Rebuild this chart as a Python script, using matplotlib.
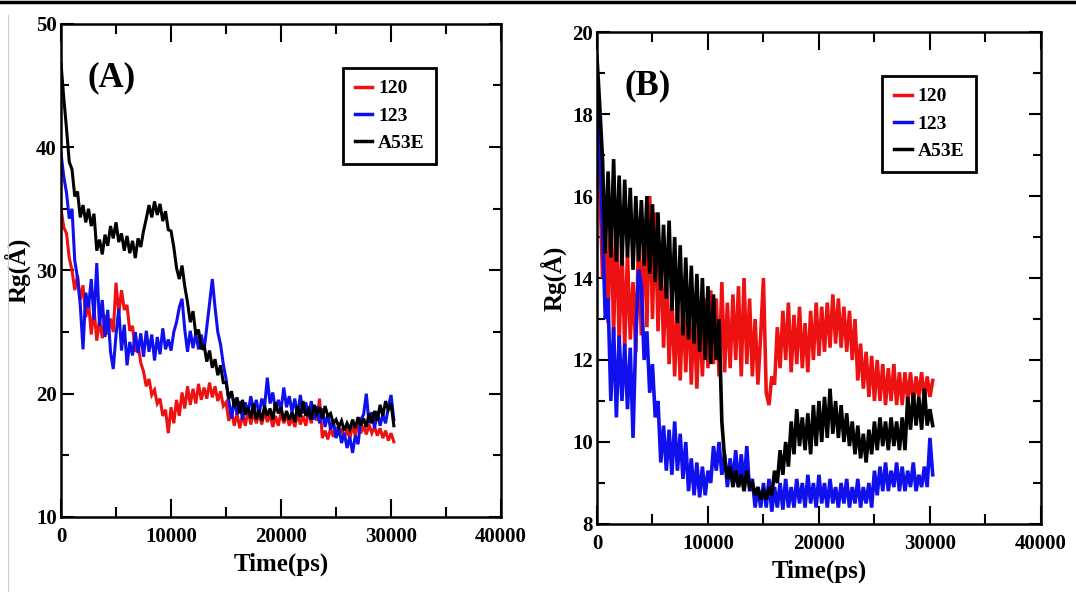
import numpy as np
import matplotlib
matplotlib.use("Agg")
import matplotlib.pyplot as plt
from matplotlib.lines import Line2D
from matplotlib.ticker import MultipleLocator

plt.rcParams['font.family'] = ['Liberation Serif', 'DejaVu Serif']
plt.rcParams['font.weight'] = 'bold'

# time axis, ps (one sample every 250 ps)
time_ps = np.arange(0, 30500, 250)

# ---- panel A : Rg (Angstrom) ----
a_120 = [
    35.0, 33.5, 33.0, 31.0, 30.0, 28.4, 29.6, 27.6, 28.8, 26.2,
    27.4, 24.8, 26.9, 24.3, 26.0, 24.5, 26.4, 24.8, 26.1, 25.0,
    29.0, 26.5, 28.4, 26.8, 27.2, 25.1, 25.5, 23.4, 24.0, 22.5,
    21.8, 20.6, 21.2, 19.9, 20.3, 19.2, 19.6, 18.2, 18.7, 16.8,
    18.9, 17.6, 19.5, 18.2, 20.1, 18.8, 20.6, 19.1, 20.4, 19.2,
    20.8, 19.5, 20.5, 19.6, 20.9, 19.7, 20.6, 19.4, 20.2, 19.0,
    19.3, 17.8, 18.6, 17.4, 18.4, 17.2, 18.3, 17.4, 18.7, 17.5,
    18.5, 17.6, 18.4, 17.5, 18.6, 17.7, 18.3, 17.3, 18.2, 17.4,
    18.5, 17.6, 18.3, 17.4, 18.1, 17.3, 18.4, 17.5, 18.2, 17.4,
    18.6, 17.6, 18.9, 17.8, 19.6, 16.4, 17.0, 16.3, 17.2, 16.5,
    17.3, 16.6, 17.2, 16.5, 17.0, 16.4, 17.4, 16.6, 17.6, 16.8,
    17.4, 16.7, 17.5, 16.8, 17.3, 16.6, 17.2, 16.4, 17.0, 16.2,
    16.8, 16.1,
]
a_123 = [
    39.5, 37.6, 36.3, 34.2, 35.0, 30.8, 29.4, 27.2, 23.6, 28.2,
    27.0, 29.3, 26.0, 30.6, 25.5, 27.6, 24.6, 26.8, 23.4, 22.0,
    24.8, 26.9, 23.5, 25.6, 22.3, 24.2, 23.1, 25.0, 23.3, 24.9,
    23.0, 25.1, 23.4, 24.8, 22.7, 24.6, 23.2, 25.3, 23.6, 24.4,
    23.5, 25.0, 25.8, 27.0, 27.7, 25.2, 23.4, 25.1, 23.7, 24.9,
    23.6, 24.8, 23.5, 25.4, 27.3, 29.3, 27.0, 25.0, 24.0, 22.4,
    21.2, 19.4, 18.0, 19.6, 18.3, 19.4, 17.9, 19.3, 18.4, 19.8,
    18.6, 19.5, 18.3, 19.6, 18.9, 21.3, 19.2, 20.1, 18.6, 19.5,
    18.7, 20.5, 18.9, 19.8, 18.5, 19.6, 18.2, 19.9, 18.4, 19.3,
    18.1, 19.4, 17.9, 19.0, 17.6, 18.8, 17.3, 18.4, 17.1, 17.8,
    16.4, 17.3, 16.0, 16.8, 15.6, 16.5, 15.2, 16.6, 15.9, 17.9,
    18.3, 20.0, 17.6, 18.5, 17.2, 18.6, 17.4, 18.3, 17.6, 18.9,
    19.9, 17.9,
]
a_a53e = [
    46.8, 44.0, 41.5, 38.8, 38.2, 36.0, 36.4, 34.3, 35.3, 33.9,
    35.0, 33.6, 34.6, 31.6, 32.5, 31.3, 32.9, 32.0, 33.6, 32.6,
    33.9, 32.3, 33.0, 31.6, 32.8, 31.4, 32.4, 31.0, 32.6, 31.9,
    33.2, 34.2, 35.3, 34.3, 35.6, 34.5, 35.4, 34.0, 34.8, 33.3,
    33.2, 31.9, 30.2, 29.3, 30.4, 28.7, 27.4, 25.8, 26.7, 24.8,
    25.2, 23.6, 24.0, 22.6, 23.5, 22.1, 22.8, 21.5, 22.3, 20.9,
    20.9, 19.6, 20.2, 18.9, 19.7, 18.4, 19.5, 18.3, 18.9, 18.0,
    19.2, 17.9, 18.7, 17.8, 19.0, 18.2, 18.8, 17.9, 19.3, 18.4,
    18.9, 17.8, 18.6, 17.9, 18.5, 17.7, 19.0, 18.1, 19.4, 18.2,
    18.7, 17.9, 19.1, 18.4, 18.9, 18.0, 19.0, 18.2, 18.4, 17.6,
    17.9, 17.3, 17.8, 17.0, 17.6, 17.1, 17.9, 17.2, 18.1, 17.4,
    18.0, 17.3, 18.4, 17.6, 18.6, 17.8, 19.1, 18.2, 19.4, 18.7,
    19.2, 17.4,
]

# ---- panel B : Rg (Angstrom) ----
b_120 = [
    16.9, 16.4, 14.0, 15.2, 12.9, 15.9, 12.6, 15.5, 12.4, 14.8,
    12.3, 14.6, 12.5, 13.9, 12.2, 15.0, 12.6, 15.4, 12.8, 16.0,
    13.0, 15.6, 12.7, 14.8, 12.3, 14.2, 11.9, 13.6, 11.6, 13.4,
    11.5, 13.5, 11.7, 13.6, 11.4, 13.3, 11.3, 13.2, 11.6, 13.5,
    11.8, 13.7, 11.9, 13.5, 11.6, 13.9, 11.7, 13.4, 11.8, 13.6,
    12.0, 13.8, 11.6, 14.0, 11.9, 13.5, 11.6, 13.0, 11.4, 12.6,
    14.0, 11.2, 10.9, 11.6, 11.4, 12.8, 11.8, 13.2, 12.0, 13.4,
    11.7, 13.1, 11.9, 13.3, 11.8, 12.9, 11.7, 13.2, 12.0, 13.4,
    12.1, 13.3, 12.2, 13.4, 12.3, 13.6, 12.4, 13.5, 12.3, 13.3,
    12.2, 13.2, 12.0, 13.0, 11.5, 12.4, 11.3, 12.2, 11.1, 12.1,
    11.0, 12.0, 11.0, 11.9, 10.9, 11.8, 11.0, 11.9, 10.9, 11.7,
    10.9, 11.7, 11.0, 11.7, 10.9, 11.6, 11.1, 11.7, 11.0, 11.6,
    11.1, 11.5,
]
b_123 = [
    18.1, 17.3, 15.2, 13.0, 13.5, 11.0, 12.8, 10.6, 12.6, 11.0,
    12.4, 10.8, 12.3, 10.1, 12.6, 14.2, 13.8, 12.0, 12.7, 11.2,
    11.9, 10.6, 11.0, 9.5, 10.4, 9.3, 10.3, 9.2, 10.5, 9.3,
    10.2, 9.1, 10.0, 8.8, 9.6, 8.7, 9.5, 8.65, 9.4, 8.7,
    9.3, 9.0, 9.9, 9.3, 10.0, 9.2, 9.7, 8.9, 9.6, 9.0,
    9.8, 8.9, 9.7, 8.9, 9.9, 8.8, 9.1, 8.4, 8.9, 8.4,
    9.0, 8.4, 9.1, 8.3, 8.9, 8.4, 9.0, 8.35, 9.1, 8.4,
    8.9, 8.4, 9.1, 8.5, 9.0, 8.4, 9.2, 8.5, 9.0, 8.4,
    9.2, 8.5, 9.0, 8.4, 9.1, 8.5, 8.9, 8.4, 9.0, 8.5,
    9.1, 8.4, 8.9, 8.5, 9.1, 8.4, 8.9, 8.5, 9.0, 8.4,
    9.3, 8.7, 9.4, 8.8, 9.5, 8.8, 9.3, 8.9, 9.5, 8.8,
    9.4, 8.8, 9.3, 8.9, 9.5, 8.8, 9.2, 8.9, 9.4, 8.9,
    10.1, 9.2,
]
b_a53e = [
    19.4, 18.2, 16.9, 14.6, 16.6, 14.5, 16.9, 14.4, 16.5, 14.3,
    16.4, 14.5, 16.2, 14.2, 16.0, 14.4, 15.9, 14.3, 16.0, 14.1,
    15.8, 13.9, 15.6, 13.7, 15.3, 13.5, 15.4, 13.2, 15.0, 12.9,
    14.8, 12.6, 14.5, 12.5, 14.3, 12.4, 14.1, 12.2, 14.0, 12.0,
    13.8, 11.9, 13.6, 12.0, 13.0, 10.5, 9.6, 9.1, 9.4, 8.9,
    9.3, 8.9, 9.2, 8.8, 9.3, 8.9, 9.0, 8.7, 8.9, 8.6,
    8.8, 8.6, 8.9, 8.7, 9.3, 9.0, 9.8, 9.2, 10.0, 9.4,
    10.5, 9.7, 10.8, 9.9, 10.6, 9.8, 10.7, 9.7, 10.9, 9.9,
    11.0, 10.0, 11.1, 10.1, 11.3, 10.2, 11.0, 10.1, 10.9, 10.0,
    10.7, 9.9, 10.5, 9.7, 10.4, 9.6, 10.2, 9.5, 10.3, 9.7,
    10.5, 9.8, 10.6, 9.9, 10.5, 9.8, 10.6, 9.9, 10.5, 9.8,
    10.6, 9.8, 11.1, 10.3, 11.2, 10.4, 11.1, 10.3, 11.3, 10.4,
    10.8, 10.4,
]

labels = ["120", "123", "A53E"]
colors = ["#ee1111", "#1010ee", "black"]

fig = plt.figure(figsize=(10.76, 5.92), dpi=100)
axA = fig.add_axes([0.0567, 0.1267, 0.409, 0.833])
axB = fig.add_axes([0.5548, 0.1149, 0.4126, 0.831])


def style(ax, ylim, ymaj, ymin):
    ax.set_xlim(0, 40000)
    ax.set_ylim(*ylim)
    ax.xaxis.set_major_locator(MultipleLocator(10000))
    ax.xaxis.set_minor_locator(MultipleLocator(5000))
    ax.yaxis.set_major_locator(MultipleLocator(ymaj))
    ax.yaxis.set_minor_locator(MultipleLocator(ymin))
    ax.tick_params(axis='both', which='both', direction='in',
                   top=True, right=True, width=1.5, labelsize=15)
    ax.tick_params(axis='x', which='major', length=13, pad=7)
    ax.tick_params(axis='x', which='minor', length=7)
    ax.tick_params(axis='y', which='major', length=9, pad=3)
    ax.tick_params(axis='y', which='minor', length=6)
    for s in ax.spines.values():
        s.set_linewidth(1.8)
    for t in ax.get_xticklabels() + ax.get_yticklabels():
        t.set_fontweight('bold')
    ax.set_xlabel("Time(ps)", fontsize=18, fontweight='bold', labelpad=4)
    ax.set_ylabel("Rg(Å)", fontsize=18, fontweight='bold', labelpad=4)


for ax, series, ylim, ymaj, ymin, tag, lw in [
        (axA, [a_120, a_123, a_a53e], (10, 50), 10, 5, "(A)", 2.2),
        (axB, [b_120, b_123, b_a53e], (8, 20), 2, 1, "(B)", 2.6)]:
    for vals, lab, col in zip(series, labels, colors):
        ax.plot(time_ps, vals, color=col, lw=lw, label=lab,
                solid_joinstyle='miter')
    style(ax, ylim, ymaj, ymin)
    ax.text(0.115, 0.89, tag, transform=ax.transAxes, fontsize=25,
            fontweight='bold', ha='center', va='center')
    leg = ax.legend(loc='upper right', bbox_to_anchor=(0.875, 0.93),
                    fontsize=14, handlelength=0.9, handletextpad=0.3,
                    borderpad=0.6, labelspacing=0.5, fancybox=False,
                    edgecolor='black', framealpha=1)
    leg.get_frame().set_linewidth(2)
    for line in leg.get_lines():
        line.set_linewidth(2.5)

# thick rule along the top edge of the image
fig.add_artist(Line2D([0, 1], [0.996, 0.996], color='black', lw=2.5,
                      transform=fig.transFigure))
fig.add_artist(Line2D([0.0075, 0.0075], [0, 0.975], color='#cccccc', lw=0.8,
                      transform=fig.transFigure))

fig.savefig("out.png", dpi=100)
